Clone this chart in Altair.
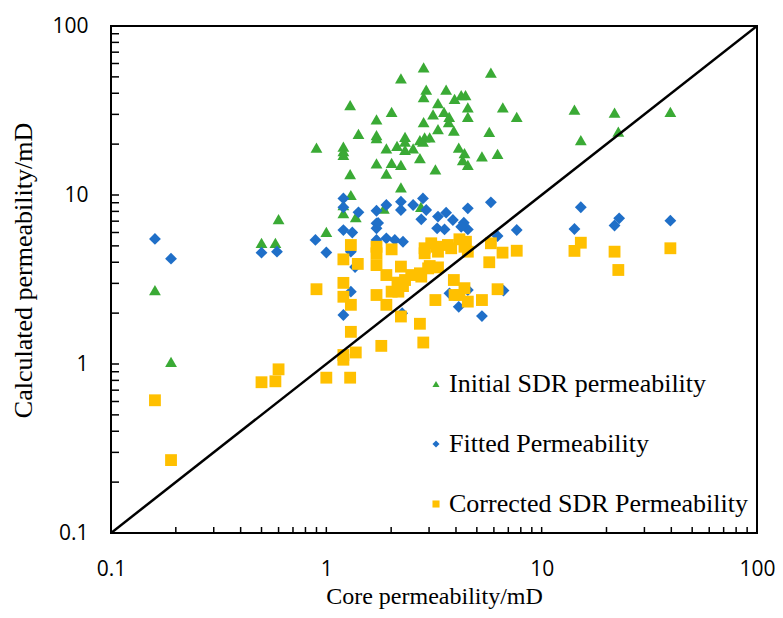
import altair as alt
import pandas as pd

series_names = ["Initial SDR permeability", "Fitted Permeability", "Corrected SDR Permeability"]
series_colors = ["#3AAA35", "#1F6FC8", "#FFC000"]
series_shapes = ["triangle-up", "diamond", "square"]

initial_core = [2.83, 2.22, 5.81, 2.91, 2.83, 3.60, 3.94, 4.23, 4.43, 3.30, 4.54, 4.54, 6.6, 7.66,
                1.29, 2.01, 1.71, 3.13, 3.52, 3.72, 3.70, 2.83, 3.30, 3.91, 5.71, 1.41, 1.71, 1.71,
                2.32, 2.32, 2.13, 1.90, 2.53, 2.32, 2.72, 2.86, 3.02, 2.81, 0.90, 1.20, 1.20, 1.20,
                4.12, 4.38, 5.28, 6.24, 4.30, 4.54, 1.71, 2.01, 2.22, 2.72, 1.90, 1.29, 3.21, 2.22,
                1.30, 1.20, 0.60, 14.2, 15.2, 21.8, 22.7, 39.6, 0.16, 0.19, 0.50, 0.58, 1.00, 1.37,
                1.20, 1.85, 2.75]
initial_calc = [57, 49, 53, 42, 38, 42, 37, 39, 39, 35, 33, 29, 33, 29,
                34, 31, 28, 30, 31, 29, 27, 27, 24.5, 24, 23.6, 23, 22.6, 21.7,
                22.1, 20.7, 19.5, 18.9, 18.9, 18.5, 21.1, 21.9, 21.9, 20.7, 19.1, 19.3, 18.2, 17.3,
                19.1, 17.7, 16.9, 17.5, 16.1, 15.1, 15.4, 15.5, 15.1, 16.5, 13.4, 13.3, 14.2, 11.1,
                10.0, 8.7, 7.2, 32, 21.1, 30.7, 23.7, 31, 2.74, 1.03, 5.2, 5.2, 6.06, 7.4,
                7.8, 8.3, 8.5]

fitted_core = [0.16, 0.19, 0.50, 0.59, 0.89, 1.00, 1.20, 1.20, 1.20, 1.32, 1.41, 1.30, 1.36, 1.30,
               1.20, 1.71, 1.71, 1.71, 1.90, 1.71, 1.90, 2.22, 2.22, 2.53, 2.81, 2.91, 2.76, 3.30,
               3.60, 3.87, 4.35, 4.54, 4.54, 3.27, 3.54, 4.23, 1.74, 2.08, 2.27, 6.24, 6.65, 3.73,
               4.12, 5.28, 2.25, 4.54, 5.81, 7.66, 14.2, 15.2, 21.8, 22.9, 39.6]
fitted_calc = [5.5, 4.2, 4.56, 4.62, 5.42, 4.57, 9.55, 8.45, 6.2, 6.0, 7.9, 4.62, 3.75, 2.68,
               1.95, 8.07, 6.8, 6.35, 8.73, 5.42, 5.54, 9.13, 8.15, 8.73, 9.55, 8.15, 7.18, 7.45,
               7.86, 7.11, 6.86, 8.34, 6.26, 6.35, 6.26, 6.49, 6.83, 5.42, 5.29, 5.72, 2.72, 2.62,
               2.18, 1.92, 2.0, 2.74, 9.05, 6.21, 6.29, 8.46, 6.6, 7.28, 7.05]

corrected_core = [0.16, 0.19, 0.50, 0.58, 0.60, 1.00, 0.90, 1.20, 1.20, 1.29, 1.37, 1.30, 1.80, 1.30,
                  1.20, 1.40, 1.20, 1.20, 1.30, 1.71, 1.71, 1.71, 1.90, 1.71, 1.90, 2.22, 2.01, 2.22,
                  2.72, 2.82, 2.14, 2.16, 2.32, 2.48, 2.72, 2.97, 3.21, 3.91, 4.38, 3.94, 4.54, 2.86,
                  3.30, 3.80, 4.38, 3.07, 4.15, 4.45, 4.54, 5.81, 6.58, 7.66, 5.71, 3.02, 3.30, 2.76,
                  2.27, 2.01, 4.15, 6.24, 5.28, 14.2, 15.2, 21.8, 22.7, 39.6, 2.86, 3.24, 3.67]
corrected_calc = [0.61, 0.27, 0.78, 0.79, 0.93, 0.83, 2.77, 1.13, 1.06, 0.83, 1.17, 1.55, 1.28, 5.06,
                  4.16, 3.91, 3.02, 2.50, 2.24, 4.94, 4.52, 3.85, 3.36, 2.56, 2.24, 3.77, 4.77, 1.91,
                  1.73, 1.34, 3.03, 2.68, 3.14, 3.36, 3.44, 3.68, 2.39, 3.14, 2.81, 2.56, 2.34, 4.52,
                  4.62, 4.84, 4.94, 5.18, 5.47, 5.29, 4.62, 5.18, 4.56, 4.68, 4.0, 3.80, 3.73, 3.29,
                  2.89, 2.68, 2.56, 2.77, 2.39, 4.67, 5.22, 4.62, 3.6, 4.84, 4.84, 4.94, 5.06]

axis_values = [0.1, 1, 10, 100]
minor_ticks = [m * d for d in (0.1, 1, 10) for m in range(1, 10)] + [100]
diagonal = [0.1, 100]

rows = []
for name, xs, ys in zip(series_names,
                        [initial_core, fitted_core, corrected_core],
                        [initial_calc, fitted_calc, corrected_calc]):
    for a, b in zip(xs, ys):
        rows.append({"series": name, "core": a, "calc": b})
df = pd.DataFrame(rows)

W, H = 646, 507
xscale = alt.Scale(type="log", domain=[0.1, 100], nice=False)
yscale = alt.Scale(type="log", domain=[0.1, 100], nice=False)

common_axis = dict(values=axis_values, format="~g", domain=False, ticks=False, tickSize=0,
                   grid=False, labelFont="Open Sans", labelFontSize=21, labelColor="black",
                   labelFlush=False, labelOverlap=False,
                   titleFont="Liberation Serif", titleFontWeight="normal",
                   titleColor="black", titleBaseline="middle")

xaxis = alt.Axis(title="Core permeability/mD", labelPadding=25, titleFontSize=24,
                 titleX=W / 2, titleY=63, **common_axis)
yaxis = alt.Axis(title="Calculated  permeability/mD", labelPadding=23, titleFontSize=26,
                 titleX=-88, titleY=244, **common_axis)

legend = alt.Legend(title=None, orient="none", legendX=312, legendY=345,
                    labelFont="Liberation Serif", labelFontSize=26, labelColor="black",
                    symbolSize=50, rowPadding=34, labelLimit=400, labelOffset=0,
                    symbolStrokeWidth=0)

points = alt.Chart(df).mark_point(filled=True, opacity=1, size=140, strokeWidth=0).encode(
    x=alt.X("core:Q", scale=xscale, axis=xaxis),
    y=alt.Y("calc:Q", scale=yscale, axis=yaxis),
    color=alt.Color("series:N", sort=series_names,
                    scale=alt.Scale(domain=series_names, range=series_colors), legend=legend),
    shape=alt.Shape("series:N", sort=series_names,
                    scale=alt.Scale(domain=series_names, range=series_shapes), legend=legend),
)

diag = alt.Chart(pd.DataFrame({"core": diagonal, "calc": diagonal})).mark_line(
    color="black", strokeWidth=2.5, clip=True).encode(
    x=alt.X("core:Q", scale=xscale, axis=xaxis),
    y=alt.Y("calc:Q", scale=yscale, axis=yaxis),
)

tick_df = pd.DataFrame({"core": minor_ticks, "calc": minor_ticks})
yticks = alt.Chart(tick_df).mark_rule(color="black", strokeWidth=1.5).encode(
    y=alt.Y("calc:Q", scale=yscale, axis=yaxis),
    x=alt.value(0), x2=alt.value(8),
)
xticks = alt.Chart(tick_df).mark_rule(color="black", strokeWidth=1.5).encode(
    x=alt.X("core:Q", scale=xscale, axis=xaxis),
    y=alt.value(H), y2=alt.value(H - 6),
)

chart = alt.layer(points, diag, yticks, xticks).properties(
    width=W, height=H,
    autosize=alt.AutoSizeParams(type="none"),
    padding={"left": 103, "top": 18, "right": 18, "bottom": 77},
).configure_view(stroke="black", strokeWidth=2)

chart.save("out.html", embed_options={"renderer": "svg", "actions": False})
